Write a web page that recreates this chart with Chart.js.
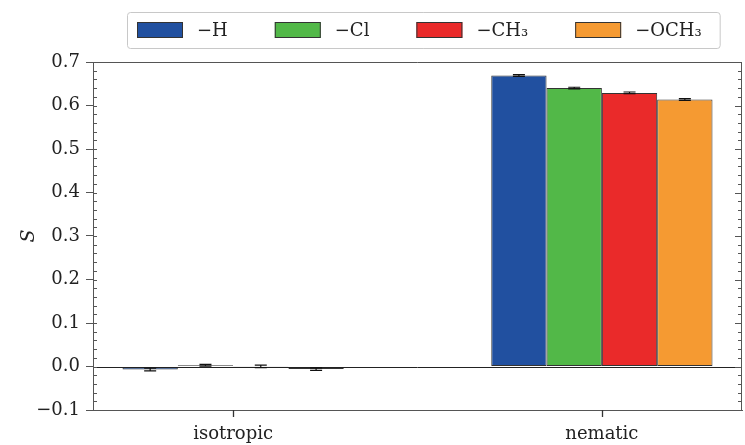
<!DOCTYPE html>
<html>
<head>
<meta charset="utf-8">
<script src="https://cdn.jsdelivr.net/npm/chart.js@4/dist/chart.umd.min.js"></script>
<style>
  html, body { margin: 0; padding: 0; background: #fff; }
  #wrap { width: 745px; height: 445px; }
</style>
</head>
<body>
<div id="wrap"><canvas id="chart" width="745" height="445"></canvas></div>
<script>
// データ
const phases = ["isotropic", "nematic"];
const seriesNames = ["\u2212H", "\u2212Cl", "\u2212CH\u2083", "\u2212OCH\u2083"];
const seriesColors = ["#2150a0", "#52b848", "#ea2a2a", "#f59a32"];
const valuesH = [-0.007, 0.669];
const valuesCl = [0.003, 0.640];
const valuesCH3 = [0.0003, 0.629];
const valuesOCH3 = [-0.006, 0.614];
const errorsH = [0.003, 0.002];
const errorsCl = [0.002, 0.002];
const errorsCH3 = [0.003, 0.002];
const errorsOCH3 = [0.003, 0.002];
const yTicks = [-0.1, 0.0, 0.1, 0.2, 0.3, 0.4, 0.5, 0.6, 0.7];

const allValues = [valuesH, valuesCl, valuesCH3, valuesOCH3];
const allErrors = [errorsH, errorsCl, errorsCH3, errorsOCH3];

const FONT = "'DejaVu Serif', 'Liberation Serif', serif";
const AXIS_COLOR = "#555";

// 凡例、補助目盛り、誤差棒などを描くプラグイン
const extras = {
    id: "extras",
    afterDraw(chart) {
        const ctx = chart.ctx;
        const area = chart.chartArea;
        const x = chart.scales.x;
        const y = chart.scales.y;

        // ゼロの線
        ctx.save();
        ctx.strokeStyle = "#222";
        ctx.lineWidth = 1;
        ctx.beginPath();
        ctx.moveTo(area.left, Math.round(y.getPixelForValue(0)) + 0.5);
        ctx.lineTo(area.right, Math.round(y.getPixelForValue(0)) + 0.5);
        ctx.stroke();

        // 誤差棒
        ctx.strokeStyle = "#111";
        ctx.lineWidth = 1.2;
        chart.data.datasets.forEach((ds, i) => {
            const meta = chart.getDatasetMeta(i);
            meta.data.forEach((bar, j) => {
                const v = allValues[i][j];
                const e = allErrors[i][j];
                const cx = bar.x;
                const y1 = y.getPixelForValue(v - e);
                const y2 = y.getPixelForValue(v + e);
                ctx.beginPath();
                ctx.moveTo(cx, y1);
                ctx.lineTo(cx, y2);
                ctx.moveTo(cx - 6, y1);
                ctx.lineTo(cx + 6, y1);
                ctx.moveTo(cx - 6, y2);
                ctx.lineTo(cx + 6, y2);
                ctx.stroke();
            });
        });

        // 枠の上と右
        ctx.strokeStyle = AXIS_COLOR;
        ctx.lineWidth = 1;
        ctx.beginPath();
        ctx.moveTo(area.left, area.top + 0.5);
        ctx.lineTo(area.right - 0.5, area.top + 0.5);
        ctx.lineTo(area.right - 0.5, area.bottom);
        ctx.stroke();

        // 補助目盛り（内向き）と右側の目盛り、x軸の目盛り
        ctx.beginPath();
        for (let k = -5; k <= 35; k++) {
            const py = Math.round(y.getPixelForValue(k * 0.02)) + 0.5;
            ctx.moveTo(area.left, py);
            ctx.lineTo(area.left + 4, py);
            ctx.moveTo(area.right, py);
            ctx.lineTo(area.right - 4, py);
        }
        yTicks.forEach(t => {
            const py = Math.round(y.getPixelForValue(t)) + 0.5;
            ctx.moveTo(area.right, py);
            ctx.lineTo(area.right - 7, py);
        });
        ctx.stroke();

        ctx.strokeStyle = "#333";
        ctx.lineWidth = 1.3;
        ctx.beginPath();
        phases.forEach((p, j) => {
            const px = Math.round(x.getPixelForValue(j)) + 0.5;
            ctx.moveTo(px, area.bottom);
            ctx.lineTo(px, area.bottom + 7);
        });
        ctx.stroke();

        // 凡例
        ctx.font = "18px " + FONT;
        ctx.textBaseline = "middle";
        const swW = 46, swH = 16, gap = 14, pad = 47;
        const widths = seriesNames.map(s => ctx.measureText(s).width);
        let total = 0;
        widths.forEach((w, i) => { total += swW + gap + w + (i < widths.length - 1 ? pad : 0); });
        const cxLegend = (area.left + area.right) / 2 + 2;
        let lx = Math.round(cxLegend - total / 2);
        const ly = 30;
        // 枠
        ctx.strokeStyle = "#c8c8c8";
        ctx.lineWidth = 1;
        ctx.beginPath();
        ctx.roundRect(lx - 9.5, 12.5, total + 28, 36, 3);
        ctx.fillStyle = "#fff";
        ctx.fill();
        ctx.stroke();
        seriesNames.forEach((s, i) => {
            ctx.fillStyle = seriesColors[i];
            ctx.fillRect(lx, ly - swH / 2, swW, swH);
            ctx.strokeStyle = "#333";
            ctx.strokeRect(lx + 0.5, ly - swH / 2 + 0.5, swW - 1, swH - 1);
            ctx.fillStyle = "#222";
            ctx.textAlign = "left";
            ctx.fillText(s, lx + swW + gap, ly + 1);
            lx += swW + gap + widths[i] + pad;
        });
        ctx.restore();
    }
};

const ctx = document.getElementById("chart").getContext("2d");

new Chart(ctx, {
    type: "bar",
    data: {
        datasets: seriesNames.map((name, i) => ({
            label: name,
            data: phases.map((p, j) => ({ x: j, y: allValues[i][j] })),
            backgroundColor: seriesColors[i],
            borderColor: "#333",
            borderWidth: 1,
            borderSkipped: false,
            categoryPercentage: 0.6,
            barPercentage: 1.0,
        })),
    },
    options: {
        responsive: false,
        animation: false,
        layout: { padding: { left: 0, right: 3, top: 62, bottom: 0 } },
        plugins: {
            legend: { display: false },
            tooltip: { enabled: false },
        },
        scales: {
            x: {
                type: "linear",
                offset: false,
                min: -0.38,
                max: 1.38,
                afterBuildTicks: (scale) => {
                    scale.ticks = phases.map((p, j) => ({ value: j }));
                },
                afterFit: (scale) => { scale.height = 35; },
                ticks: {
                    callback: (v) => phases[v],
                    font: { family: FONT, size: 18 },
                    color: "#222",
                    padding: 14,
                    maxRotation: 0,
                    autoSkip: false,
                },
                grid: {
                    offset: false,
                    drawOnChartArea: false,
                    drawTicks: false,
                    color: AXIS_COLOR,
                },
                border: { display: true, color: AXIS_COLOR, width: 1 },
            },
            y: {
                min: -0.1,
                max: 0.7,
                afterBuildTicks: (scale) => {
                    scale.ticks = yTicks.map(v => ({ value: v }));
                },
                afterFit: (scale) => { scale.width = 93; },
                ticks: {
                    callback: (v) => (v < 0 ? "\u2212" : "") + Math.abs(v).toFixed(1),
                    font: { family: FONT, size: 18 },
                    color: "#222",
                    padding: 6,
                },
                grid: {
                    drawOnChartArea: false,
                    drawTicks: true,
                    tickLength: 7,
                    color: AXIS_COLOR,
                },
                border: { display: true, color: AXIS_COLOR, width: 1 },
                title: {
                    display: true,
                    text: "S",
                    font: { family: FONT, size: 19, style: "italic" },
                    color: "#222",
                    padding: { top: 18, bottom: 0 },
                },
            },
        },
    },
    plugins: [extras],
});
</script>
</body>
</html>
